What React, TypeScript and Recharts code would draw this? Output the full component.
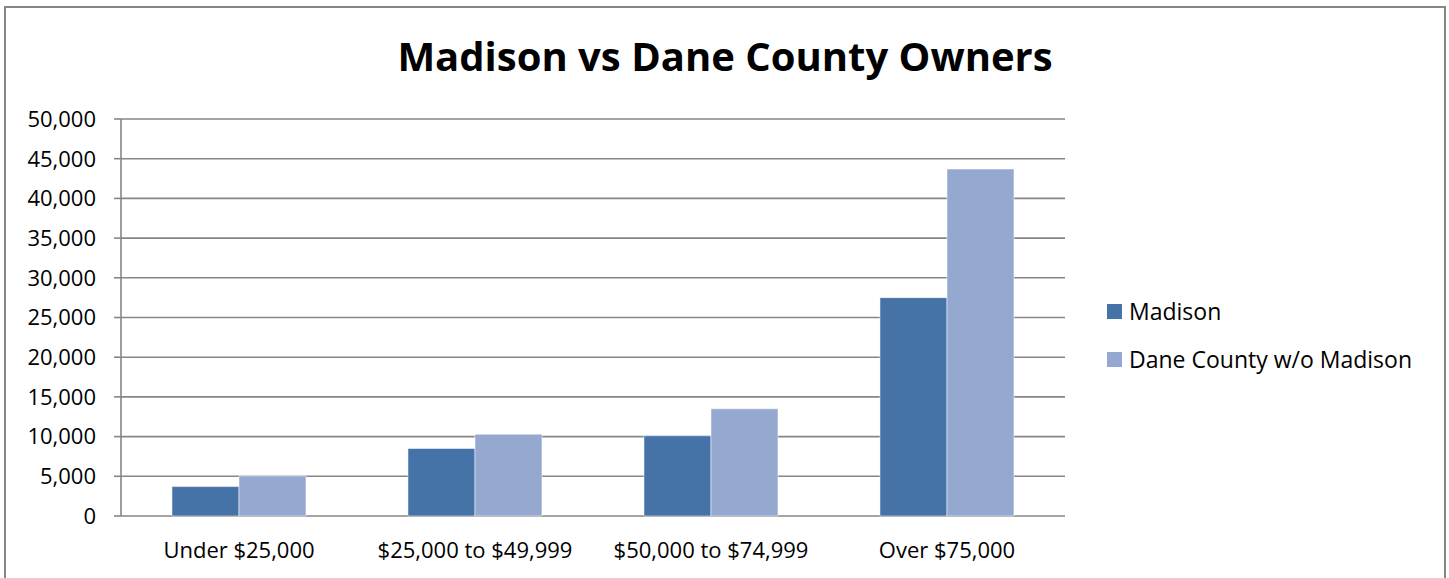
import React from "react";
import {
  BarChart,
  Bar,
  XAxis,
  YAxis,
  CartesianGrid,
  Legend,
} from "recharts";

const categories = [
  "Under $25,000",
  "$25,000 to $49,999",
  "$50,000 to $74,999",
  "Over $75,000",
];
const madison = [3700, 8500, 10100, 27500];
const daneCounty = [5050, 10300, 13500, 43700];
const yTicks = [0, 5000, 10000, 15000, 20000, 25000, 30000, 35000, 40000, 45000, 50000];
const edgeTicks = [0, 1, 2, 3, 4];

const seriesNames = ["Madison", "Dane County w/o Madison"];
const seriesColors = ["#4572A7", "#95A9D0"];

const data = categories.map((name, i) => ({
  name,
  madison: madison[i],
  dane: daneCounty[i],
}));

const FONT = "'Open Sans', sans-serif";
const GRAY = "#868686";
const LEGEND_W = 340; // recharts reserves this on the right of the plot

// legend drawn as plain html so it sits where the reference has it
function LegendBox() {
  return (
    <div style={{ fontFamily: FONT, fontSize: 23, color: "#000" }}>
      {seriesNames.map((s, i) => (
        <div
          key={s}
          style={{ display: "flex", alignItems: "center", height: 48 }}
        >
          <span
            style={{
              width: 15,
              height: 15,
              background: seriesColors[i],
              marginRight: 7,
              display: "inline-block",
            }}
          />
          <span>{s}</span>
        </div>
      ))}
    </div>
  );
}

export default function App() {
  return (
    <div
      style={{
        position: "absolute",
        left: 0,
        top: 0,
        width: 1449,
        height: 578,
        overflow: "hidden",
        background: "#fff",
      }}
    >
      <div
        style={{
          position: "absolute",
          left: 4,
          top: 6,
          width: 1438,
          height: 620,
          border: `2px solid ${GRAY}`,
        }}
      />
      <div
        style={{
          position: "absolute",
          left: 0,
          top: 28,
          width: 1450,
          textAlign: "center",
          fontFamily: FONT,
          fontWeight: 700,
          fontSize: 40,
          color: "#000",
        }}
      >
        Madison vs Dane County Owners
      </div>
      <div style={{ position: "absolute", left: 0, top: 0 }}>
        <BarChart
          width={1449}
          height={578}
          data={data}
          margin={{ top: 119, right: 384 - LEGEND_W, bottom: 0, left: 0 }}
          barCategoryGap="21.6%"
          barGap={0}
        >
          <CartesianGrid
            vertical={false}
            stroke={GRAY}
            strokeWidth={1.6}
          />
          <XAxis
            xAxisId="edges"
            type="number"
            domain={[0, 4]}
            ticks={edgeTicks}
            tick={false}
            tickSize={7}
            height={0}
            stroke={GRAY}
            axisLine={{ stroke: GRAY, strokeWidth: 1.8 }}
            tickLine={{ stroke: GRAY, strokeWidth: 1.6 }}
          />
          <XAxis
            dataKey="name"
            height={62}
            axisLine={false}
            tickLine={false}
            tickSize={0}
            tickMargin={26}
            interval={0}
            tick={{ fill: "#000", fontSize: 22, fontFamily: FONT }}
          />
          <YAxis
            width={121}
            domain={[0, 50000]}
            ticks={yTicks}
            interval={0}
            tickSize={7}
            tickMargin={18}
            tickFormatter={(v: number) => v.toLocaleString("en-US")}
            axisLine={{ stroke: GRAY, strokeWidth: 1.6 }}
            tickLine={{ stroke: GRAY, strokeWidth: 1.6 }}
            tick={{ fill: "#000", fontSize: 22, fontFamily: FONT }}
          />
          <Legend
            layout="vertical"
            align="right"
            verticalAlign="middle"
            wrapperStyle={{ left: 1107, top: 287, width: LEGEND_W }}
            content={() => <LegendBox />}
          />
          <Bar
            dataKey="madison"
            name={seriesNames[0]}
            fill={seriesColors[0]}
            stroke="rgba(255,255,255,0.5)"
            strokeWidth={1}
            isAnimationActive={false}
          />
          <Bar
            dataKey="dane"
            name={seriesNames[1]}
            fill={seriesColors[1]}
            stroke="rgba(255,255,255,0.5)"
            strokeWidth={1}
            isAnimationActive={false}
          />
        </BarChart>
      </div>
    </div>
  );
}
